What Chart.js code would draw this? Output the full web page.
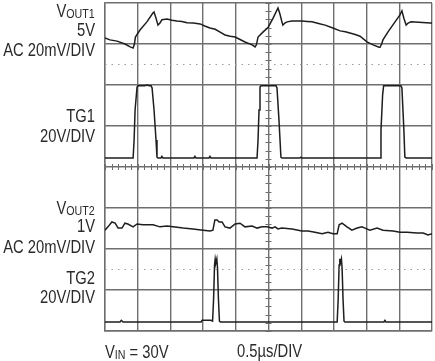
<!DOCTYPE html>
<html>
<head>
<meta charset="utf-8">
<script src="https://cdn.jsdelivr.net/npm/chart.js@4.4.1/dist/chart.umd.min.js"></script>
<style>
  html, body { margin: 0; padding: 0; background: #fff; }
  #wrap { position: relative; width: 435px; height: 361px; overflow: hidden; }
  #scope { position: absolute; left: 0; top: 0; }
  .lbl {
    position: absolute;
    font-family: "Liberation Sans", Arial, sans-serif;
    font-size: 18px;
    line-height: 18px;
    color: #2a2a2a;
    white-space: nowrap;
    transform: scaleX(0.82);
    transform-origin: 0 50%;
  }
  .lbl.r { text-align: right; right: 340px; transform-origin: 100% 50%; }
  .sub { font-size: 13px; position: relative; top: 1px; }
</style>
</head>
<body>
<div id="wrap">
  <canvas id="scope" width="435" height="361"></canvas>
</div>
<script>
// time axis in divisions (0.5us/DIV), levels in screen divisions
const vout1X = [0, 0.15, 0.37, 0.61, 0.77, 0.86, 0.9, 0.93, 1.07, 1.28, 1.47, 1.5, 1.56, 1.62, 1.68, 1.74, 1.9, 2.05, 2.2, 2.35, 2.51, 2.7, 2.91, 3.05, 3.21, 3.37, 3.52, 3.67, 3.83, 3.98, 4.13, 4.28, 4.5, 4.59, 4.63, 4.68, 4.83, 4.99, 5.14, 5.29, 5.35, 5.41, 5.44, 5.5, 5.57, 5.72, 5.87, 6.02, 6.18, 6.33, 6.53, 6.73, 6.97, 7.19, 7.35, 7.49, 7.65, 7.8, 8.01, 8.2, 8.38, 8.41, 8.46, 8.5, 8.65, 8.87, 9.02, 9.08, 9.14, 9.21, 9.27, 9.36, 9.6, 9.94, 10];
const vout1Y = [7.15, 7.1, 7.07, 7.0, 6.93, 6.9, 7.0, 7.17, 7.34, 7.54, 7.76, 7.78, 7.63, 7.46, 7.51, 7.59, 7.61, 7.58, 7.56, 7.55, 7.52, 7.51, 7.49, 7.44, 7.39, 7.36, 7.29, 7.22, 7.19, 7.17, 7.11, 7.05, 6.98, 6.93, 6.98, 7.17, 7.29, 7.41, 7.63, 7.88, 7.73, 7.54, 7.46, 7.51, 7.54, 7.56, 7.56, 7.56, 7.55, 7.54, 7.5, 7.46, 7.39, 7.32, 7.3, 7.27, 7.23, 7.19, 7.05, 6.98, 6.92, 6.92, 7.0, 7.1, 7.29, 7.54, 7.71, 7.81, 7.63, 7.46, 7.51, 7.54, 7.53, 7.51, 7.51];

const tg1X = [0, 0.86, 0.89, 0.92, 0.98, 1.01, 1.22, 1.28, 1.35, 1.41, 1.44, 1.5, 1.56, 1.59, 1.62, 1.71, 1.74, 1.77, 2.72, 2.75, 2.78, 3.18, 3.21, 3.24, 4.65, 4.68, 4.71, 4.74, 4.77, 5.23, 5.26, 5.32, 5.38, 5.41, 5.96, 5.99, 6.02, 8.41, 8.44, 8.49, 8.52, 9.05, 9.08, 9.14, 9.17, 9.21, 10];
const tg1Y = [4.22, 4.22, 4.66, 5.39, 5.95, 5.98, 5.98, 6.0, 5.98, 5.98, 5.93, 5.39, 4.66, 4.24, 4.22, 4.22, 4.26, 4.22, 4.22, 4.26, 4.22, 4.22, 4.26, 4.22, 4.22, 4.66, 5.39, 5.95, 5.98, 5.98, 5.93, 5.15, 4.24, 4.22, 4.22, 4.24, 4.22, 4.22, 4.9, 5.76, 5.98, 5.98, 5.93, 4.9, 4.24, 4.22, 4.22];

const vout2X = [0, 0.09, 0.21, 0.31, 0.4, 0.52, 0.61, 0.7, 0.86, 0.98, 1.16, 1.47, 1.68, 1.9, 2.08, 2.39, 2.69, 3.0, 3.21, 3.3, 3.36, 3.43, 3.49, 3.58, 3.67, 3.82, 3.98, 4.13, 4.28, 4.5, 4.65, 4.8, 4.95, 5.11, 5.2, 5.29, 5.41, 5.72, 6.02, 6.21, 6.42, 6.64, 6.82, 6.97, 7.1, 7.16, 7.25, 7.4, 7.55, 7.71, 7.86, 7.95, 8.1, 8.32, 8.5, 8.81, 9.02, 9.24, 9.54, 9.73, 9.88, 10];
const vout2Y = [2.46, 2.54, 2.66, 2.63, 2.51, 2.51, 2.63, 2.61, 2.54, 2.61, 2.59, 2.59, 2.54, 2.56, 2.54, 2.51, 2.49, 2.46, 2.44, 2.46, 2.71, 2.71, 2.66, 2.66, 2.54, 2.51, 2.61, 2.63, 2.54, 2.56, 2.51, 2.54, 2.54, 2.51, 2.54, 2.49, 2.51, 2.49, 2.44, 2.44, 2.41, 2.37, 2.41, 2.37, 2.37, 2.59, 2.63, 2.54, 2.46, 2.51, 2.54, 2.51, 2.46, 2.51, 2.46, 2.44, 2.41, 2.41, 2.39, 2.39, 2.34, 2.37];

const tg2X = [0, 0.46, 0.5, 0.55, 2.94, 2.97, 3.24, 3.29, 3.32, 3.35, 3.37, 3.39, 3.42, 3.44, 3.47, 3.5, 3.53, 7.1, 7.13, 7.16, 7.18, 7.2, 7.23, 7.25, 7.28, 7.31, 7.34, 8.53, 8.56, 8.59, 10];
const tg2Y = [0.22, 0.22, 0.26, 0.22, 0.22, 0.26, 0.26, 0.24, 0.76, 1.61, 1.76, 1.66, 1.76, 1.54, 0.76, 0.24, 0.22, 0.22, 0.76, 1.61, 1.76, 1.66, 1.76, 1.54, 0.76, 0.24, 0.22, 0.22, 0.26, 0.22, 0.22];

// dotted ground markers
const markerLevels = [6.5, 1.5];

const gridColor = '#6e6e6e';
const traceColor = '#1e1e1e';

const toPoints = (xs, ys) => xs.map((x, i) => ({ x, y: ys[i] }));

const trace = (xs, ys) => ({
  data: toPoints(xs, ys),
  borderColor: traceColor,
  borderWidth: 1.5,
  pointRadius: 0,
  tension: 0
});

const markers = markerLevels.map((lvl) => ({
  data: [{ x: 0, y: lvl }, { x: 10, y: lvl }],
  borderColor: '#9a9a9a',
  borderWidth: 1,
  borderDash: [1.5, 5],
  pointRadius: 0
}));

// minor ticks along the two centre graticule lines
const centerTicks = {
  id: 'centerTicks',
  beforeDatasetsDraw(chart) {
    const { ctx, scales: { x, y } } = chart;
    const cx = x.getPixelForValue(5);
    const cy = y.getPixelForValue(4);
    ctx.save();
    ctx.strokeStyle = gridColor;
    ctx.lineWidth = 1;
    ctx.beginPath();
    for (let i = 0; i <= 50; i++) {
      const px = Math.round(x.getPixelForValue(i / 5)) + 0.5;
      ctx.moveTo(px, cy - 3);
      ctx.lineTo(px, cy + 3);
    }
    for (let i = 0; i <= 40; i++) {
      const py = Math.round(y.getPixelForValue(i / 5)) + 0.5;
      ctx.moveTo(cx - 3, py);
      ctx.lineTo(cx + 3, py);
    }
    ctx.stroke();
    ctx.restore();
  }
};

const axis = (max) => ({
  type: 'linear',
  min: 0,
  max,
  ticks: { display: false, stepSize: 1 },
  grid: { color: gridColor, lineWidth: 1.4, drawTicks: false },
  border: { color: gridColor, width: 1.4 }
});

new Chart(document.querySelector('#scope'), {
  type: 'line',
  data: {
    datasets: [
      ...markers,
      trace(vout1X, vout1Y),
      trace(tg1X, tg1Y),
      trace(vout2X, vout2Y),
      trace(tg2X, tg2Y)
    ]
  },
  options: {
    responsive: false,
    animation: false,
    layout: { padding: { left: 105, right: 3, top: 3, bottom: 30 } },
    plugins: { legend: { display: false }, tooltip: { enabled: false } },
    scales: { x: axis(10), y: axis(8) }
  },
  plugins: [centerTicks]
});

// channel annotations: [html, baseline y, left x or null for right-aligned]
const labels = [
  ['V<span class="sub">OUT1</span>', 17, null],
  ['5V', 36, null],
  ['AC 20mV/DIV', 56, null],
  ['TG1', 122, null],
  ['20V/DIV', 142, null],
  ['V<span class="sub">OUT2</span>', 214, null],
  ['1V', 232, null],
  ['AC 20mV/DIV', 253, null],
  ['TG2', 284, null],
  ['20V/DIV', 303, null],
  ['V<span class="sub">IN</span> = 30V', 358, 105],
  ['0.5µs/DIV', 357, 237]
];

const wrap = document.querySelector('#wrap');
labels.forEach(([html, base, left]) => {
  const div = document.createElement('div');
  div.className = left === null ? 'lbl r' : 'lbl';
  div.innerHTML = html;
  div.style.top = (base - 15) + 'px';
  if (left !== null) div.style.left = left + 'px';
  wrap.appendChild(div);
});
</script>
</body>
</html>
